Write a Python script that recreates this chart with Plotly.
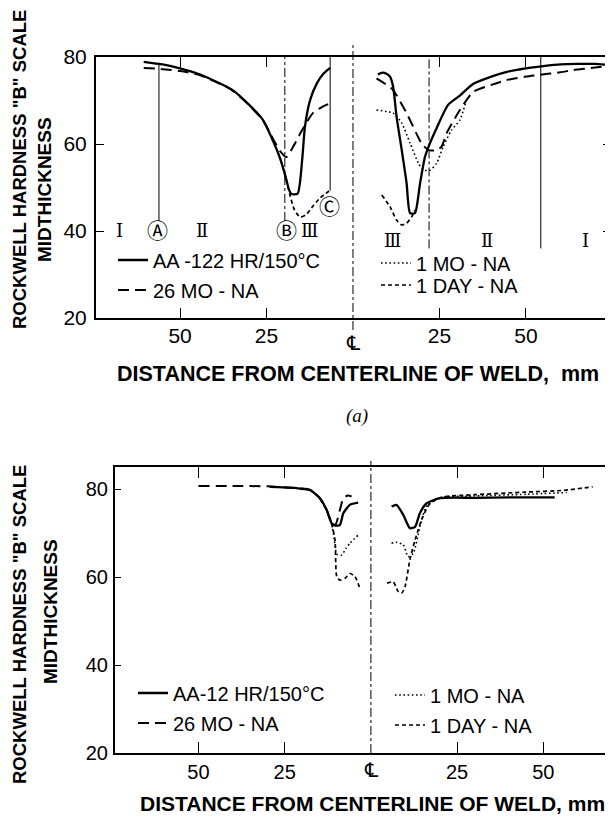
import plotly.graph_objects as go

W, H = 613, 817
OFF = 8  # page body margin of the rendered html

# ---------------- data: top chart (a) ----------------
t_aa_lx = [-60.5, -55, -50, -45, -40, -35, -30, -26, -23, -21, -19.5, -18.5, -17.8, -16, -14.7, -13.9, -12.4, -10.4, -8.5, -6.6]
t_aa_ly = [78.9, 78.3, 77.4, 76.2, 74.5, 72.5, 69.0, 65.5, 60.5, 56.5, 52.5, 49.5, 48.5, 48.6, 56.3, 63.9, 70.1, 74.0, 76.2, 77.5]
t_aa_rx = [7.2, 8.5, 9.8, 10.7, 11.6, 12.6, 14.1, 15.5, 16.5, 17.9, 19.4, 20.8, 21.8, 24.2, 27.5, 31, 34.7, 40, 44.5, 50, 55, 60, 65, 70, 73.5]
t_aa_ry = [76.0, 76.4, 76.1, 75.5, 73.2, 66.3, 58.6, 51.0, 44.1, 44.1, 51.0, 57.0, 59.3, 63.7, 69.0, 71.2, 73.8, 75.5, 76.6, 77.4, 77.9, 78.3, 78.4, 78.4, 78.2]

t_26_lx = [-60.5, -55, -50, -45, -40, -35, -30, -26, -23, -21, -19.3, -17, -14.7, -11.6, -9, -6.6]
t_26_ly = [77.5, 77.2, 76.8, 76.0, 74.4, 72.4, 68.9, 65.4, 61.0, 58.3, 57.0, 59.8, 63.2, 67.1, 68.5, 69.4]
t_26_rx = [6.8, 9, 11.6, 15.5, 19.8, 21.8, 24.2, 25.6, 27.1, 30.9, 34.8, 40, 44.4, 50, 54, 60, 63.7, 68, 73.3]
t_26_ry = [75.1, 74.0, 72.4, 67.1, 60.2, 58.6, 58.6, 59.4, 62.5, 67.8, 72.0, 73.6, 74.7, 75.5, 75.9, 76.5, 77.0, 77.4, 77.9]

t_1mo_rx = [6.8, 11.6, 14.1, 16.5, 18.9, 20.3, 22.3, 24.2, 26.1, 28.5, 30.9, 32.5]
t_1mo_ry = [67.8, 67.1, 64.8, 60.2, 55.6, 54.0, 54.0, 55.6, 59.4, 63.2, 65.5, 69.3]

t_1day_lx = [-21, -19.5, -18.3, -17, -15.3, -13.5, -11.5, -9.5, -6.9]
t_1day_ly = [56.5, 52.5, 48.5, 45.0, 43.2, 43.8, 45.8, 47.6, 49.2]
t_1day_rx = [8.3, 10.7, 12.6, 14.1, 15.5, 17.0, 17.9]
t_1day_ry = [48.3, 45.6, 42.5, 41.4, 41.8, 43.3, 44.8]

# zone boundary lines (x, top value, bottom value, dash)
zone_line_x = [-56.1, -19.7, -6.6, 22.0, 54.3]
zone_line_top = [78.7, 80, 80, 80, 80]
zone_line_bot = [42.3, 42.3, 49.3, 36.0, 36.0]
zone_line_dash = ["solid", "dashdot", "solid", "dashdot", "solid"]

zone_text = ["Ⅰ", "Ⓐ", "Ⅱ", "Ⓑ", "Ⅲ", "Ⓒ", "Ⅲ", "Ⅱ", "Ⅰ"]
zone_x = [-67.6, -56.4, -43.6, -19.1, -12.5, -6.9, 11.3, 38.7, 67.3]
zone_y = [40, 40, 40, 40, 40, 45.5, 37.9, 37.9, 37.9]

# ---------------- data: bottom chart ----------------
b_aa_lx = [-29.3, -23.5, -20.6, -17.7, -14.8, -12.8, -11.4, -10.4, -9.0, -8.0, -6.1, -3.7]
b_aa_ly = [80.5, 80.3, 80.1, 79.8, 77.9, 75.2, 72.2, 71.7, 71.8, 74.5, 76.4, 76.9]
b_aa_rx = [6.0, 7.4, 9.4, 11.3, 12.8, 14.2, 16.1, 20.0, 30, 40, 53.3]
b_aa_ry = [76.0, 76.4, 74.1, 71.1, 71.4, 74.5, 76.7, 77.9, 78.0, 78.1, 78.1]

b_26_lx = [-50, -40, -30, -23.5, -20.6, -17.7, -14.8, -12.8, -11.4, -10.3, -9.0, -8.0, -6.6, -5.6]
b_26_ly = [80.7, 80.7, 80.6, 80.3, 80.1, 79.8, 77.9, 75.2, 72.2, 71.9, 75.2, 77.9, 78.5, 78.3]

b_1mo_lx = [-14.8, -12.8, -11.4, -10.6, -9.9, -8.5, -7.2, -6.1, -3.7]
b_1mo_ly = [77.9, 75.2, 72.2, 68.5, 65.2, 65.0, 66.5, 67.7, 69.5]
b_1mo_rx = [6.0, 7.4, 9.4, 10.8, 12.3, 14.2, 16.1, 20.0, 30, 45, 56.8]
b_1mo_ry = [67.7, 67.9, 67.3, 64.6, 65.4, 71.4, 76.0, 78.0, 78.4, 78.8, 79.2]

b_1day_lx = [-14.8, -12.8, -11.4, -10.4, -9.9, -9.0, -7.5, -6.1, -4.6, -3.2]
b_1day_ly = [77.9, 75.2, 72.2, 68.4, 60.1, 59.3, 59.7, 60.8, 60.1, 57.4]
b_1day_rx = [4.7, 6.5, 7.9, 8.9, 9.9, 11.3, 12.8, 14.7, 17.1, 21.0, 30, 45, 56, 64.3]
b_1day_ry = [58.6, 58.9, 56.7, 56.3, 57.8, 63.9, 68.4, 73.0, 76.7, 78.2, 78.7, 79.3, 79.7, 80.5]

x_tickvals = [-50, -25, 25, 50]
x_ticktext = ["50", "25", "25", "50"]
y_tickvals = [20, 40, 60, 80]

names_top = ["AA -122 HR/150°C", "26 MO - NA", "1 MO - NA", "1 DAY - NA"]
names_bot = ["AA-12 HR/150°C", "26 MO - NA", "1 MO - NA", "1 DAY - NA"]


def join(lx, ly, rx, ry):
    return list(lx) + [None] + list(rx), list(ly) + [None] + list(ry)


def pxx(x):
    return (x - OFF) / W


def pxy(y):
    return 1 - (y - OFF) / H


FONT = "Liberation Sans, Arial, sans-serif"
styles = {
    "aa": dict(color="black", width=2.3, dash="solid"),
    "26": dict(color="black", width=2.0, dash="11px,6px"),
    "1mo": dict(color="black", width=1.6, dash="1.6px,2.6px"),
    "1day": dict(color="black", width=1.7, dash="4px,3px"),
}

fig = go.Figure()


def add(x, y, name, st, xa, ya, leg):
    fig.add_trace(go.Scatter(x=x, y=y, mode="lines", name=name, line=dict(**styles[st], shape="spline", smoothing=0.6),
                             xaxis=xa, yaxis=ya, legend=leg, connectgaps=False, hoverinfo="skip"))


x, y = join(t_aa_lx, t_aa_ly, t_aa_rx, t_aa_ry)
add(x, y, names_top[0], "aa", "x", "y", "legend")
x, y = join(t_26_lx, t_26_ly, t_26_rx, t_26_ry)
add(x, y, names_top[1], "26", "x", "y", "legend2")
add(t_1mo_rx, t_1mo_ry, names_top[2], "1mo", "x", "y", "legend3")
x, y = join(t_1day_lx, t_1day_ly, t_1day_rx, t_1day_ry)
add(x, y, names_top[3], "1day", "x", "y", "legend4")

x, y = join(b_aa_lx, b_aa_ly, b_aa_rx, b_aa_ry)
add(x, y, names_bot[0], "aa", "x2", "y2", "legend5")
add(b_26_lx, b_26_ly, names_bot[1], "26", "x2", "y2", "legend6")
x, y = join(b_1mo_lx, b_1mo_ly, b_1mo_rx, b_1mo_ry)
add(x, y, names_bot[2], "1mo", "x2", "y2", "legend7")
x, y = join(b_1day_lx, b_1day_ly, b_1day_rx, b_1day_ry)
add(x, y, names_bot[3], "1day", "x2", "y2", "legend8")

axis_common = dict(showline=True, linewidth=2, linecolor="black", mirror="ticks", ticks="inside",
                   tickcolor="black", tickwidth=1.3, showgrid=False, zeroline=False, automargin=False,
                   tickfont=dict(family=FONT, size=21, color="black"))

legend_common = dict(bgcolor="rgba(0,0,0,0)", borderwidth=0, xanchor="left", yanchor="middle",
                     font=dict(family=FONT, size=20, color="black"), itemclick=False, itemdoubleclick=False)


def leg(xp, yp):
    d = dict(legend_common)
    d.update(x=pxx(xp), y=pxy(yp))
    return d


layout = dict(
    width=W, height=H, margin=dict(l=0, r=0, t=0, b=0, pad=0, autoexpand=False),
    paper_bgcolor="white", plot_bgcolor="white", showlegend=True,
    xaxis=dict(axis_common, domain=[pxx(96), pxx(611)], range=[-74.3, 74.6], tickvals=x_tickvals,
               ticktext=x_ticktext, ticklen=10, anchor="y", ticklabelstandoff=-2),
    yaxis=dict(axis_common, domain=[pxy(318), pxy(57)], range=[20, 80], tickvals=y_tickvals,
               ticklen=8, anchor="x", ticklabelstandoff=3),
    xaxis2=dict(axis_common, domain=[pxx(115), pxx(613)], range=[-74.2, 70.2], tickvals=x_tickvals,
                ticktext=x_ticktext, ticklen=11, anchor="y2", ticklabelstandoff=0,
                tickfont=dict(family=FONT, size=20, color="black")),
    yaxis2=dict(axis_common, domain=[pxy(753), pxy(467)], range=[20, 85], tickvals=y_tickvals,
                ticklen=6, anchor="x2", ticklabelstandoff=1,
                tickfont=dict(family=FONT, size=20, color="black")),
    legend=leg(113, 260), legend2=leg(113, 290), legend3=leg(376, 263), legend4=leg(376, 285),
    legend5=leg(133, 693), legend6=leg(133, 723), legend7=leg(390, 695), legend8=leg(390, 725),
)
fig.update_layout(**layout)

shapes = []
# centerlines
shapes.append(dict(type="line", xref="x", yref="paper", x0=0, x1=0, y0=pxy(330), y1=pxy(44),
                   line=dict(color="black", width=1, dash="dashdot")))
shapes.append(dict(type="line", xref="x2", yref="paper", x0=0, x1=0, y0=pxy(753), y1=pxy(461),
                   line=dict(color="black", width=1, dash="dashdot")))
for zx, zt, zb, zd in zip(zone_line_x, zone_line_top, zone_line_bot, zone_line_dash):
    shapes.append(dict(type="line", xref="x", yref="y", x0=zx, x1=zx, y0=zb, y1=zt,
                       line=dict(color="black", width=1, dash=zd)))
fig.update_layout(shapes=shapes)

ann = []
A = dict(showarrow=False, xanchor="center", yanchor="middle")
for t, zx, zy in zip(zone_text, zone_x, zone_y):
    circ = t in "ⒶⒷⒸ"
    ann.append(dict(A, text=t, x=zx, y=zy, xref="x", yref="y",
                    font=dict(family=("DejaVu Sans, Noto Sans CJK JP" if circ else "DejaVu Serif, Noto Sans CJK JP"),
                              size=(21 if circ else 18), color="black")))
# centerline symbols
for xa, yp in (("x", 343), ("x2", 770)):
    ann.append(dict(A, text="℄", x=0, y=pxy(yp), xref=xa, yref="paper",
                    font=dict(family="DejaVu Sans, Noto Sans CJK JP", size=20, color="black")))
# axis titles
ann.append(dict(A, text="<b>DISTANCE FROM CENTERLINE OF WELD,  mm</b>", x=pxx(358), y=pxy(374), xref="paper",
                yref="paper", font=dict(family=FONT, size=21.5, color="black")))
ann.append(dict(A, text="<b>DISTANCE FROM CENTERLINE OF WELD, mm</b>", x=pxx(373), y=pxy(803), xref="paper",
                yref="paper", font=dict(family=FONT, size=21, color="black")))
ann.append(dict(A, text="<i>(a)</i>", x=pxx(357), y=pxy(416), xref="paper", yref="paper",
                font=dict(family="Liberation Serif, serif", size=19, color="black")))
for yc1, yc2, x1, x2 in ((170, 190, 19, 44), (625, 612, 19, 50)):
    ann.append(dict(A, text='<b>ROCKWELL HARDNESS "B" SCALE</b>', x=pxx(x1), y=pxy(yc1), xref="paper", yref="paper",
                    textangle=-90, font=dict(family=FONT, size=18.5, color="black")))
    ann.append(dict(A, text="<b>MIDTHICKNESS</b>", x=pxx(x2), y=pxy(yc2), xref="paper", yref="paper",
                    textangle=-90, font=dict(family=FONT, size=19, color="black")))
fig.update_layout(annotations=ann)

fig.write_html("out.html")
